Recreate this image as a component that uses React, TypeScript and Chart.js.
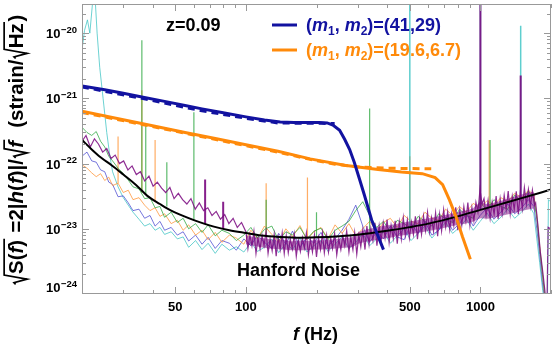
import React, { useEffect, useRef } from "react";
import { Chart, registerables } from "chart.js";

Chart.register(...registerables);

const FONT = '"Liberation Sans", Arial, Helvetica, sans-serif';

// ---------- axes ----------
const X_MIN = 20;
const X_MAX = 2000;
const Y_MIN = 1e-24;
const Y_MAX = 2.8e-20;
const xTickLabels = [50, 100, 500, 1000];
const xMinorTicks = [20, 30, 40, 60, 70, 80, 90, 200, 300, 400, 600, 700, 800, 900, 2000];
const yDecades = [-24, -23, -22, -21, -20];
const yMinorMultipliers = [2, 3, 4, 5, 6, 7, 8, 9];

// ---------- detector noise traces (values in units of 1e-23 strain/sqrt(Hz)) ----------
const U = 1e-23;

const gridFreqs = [
  20, 21, 22, 23, 24, 25, 26, 27, 28.5, 30,
  31.5, 33, 35, 37, 39, 41, 43, 45, 48, 51,
  54, 57, 61, 65, 69, 74, 79, 85, 91, 98,
  105, 112, 120, 129, 138, 148, 158, 170, 182, 195,
  209, 224, 240, 257, 275, 294, 315, 337, 361, 386,
  413, 442, 473, 506, 542, 580, 621, 664, 711, 761,
  814, 871, 932, 997, 1067, 1142, 1222, 1308, 1400, 1498,
  1603, 1690, 1740, 1790, 1840, 1890,
];

const greenNoise = [
  36, 30, 27, 31, 22, 18, 13, 11, 8.5, 7.0,
  5.6, 4.4, 4.1, 2.9, 3.0, 2.1, 2.2, 1.5, 1.8, 1.25,
  1.45, 1.0, 1.2, 0.88, 1.15, 0.78, 0.95, 0.85, 0.66, 0.8,
  1.05, 0.72, 0.98, 1.1, 0.66, 0.9, 0.8, 1.05, 0.7, 0.92,
  1.02, 0.68, 0.95, 1.1, 1.3, 1.9, 2.6, 1.6, 1.05, 1.3,
  0.9, 1.35, 1.2, 1.0, 1.55, 1.3, 1.1, 1.7, 1.4, 1.25,
  2.0, 1.6, 1.45, 2.6, 1.9, 2.8, 2.2, 2.0, 3.3, 2.6,
  3.8, 2.9, 1.4, 0.5, 0.2, 0.08,
];

const blueNoise = [
  13, 15, 11, 10.5, 8, 7.5, 5.2, 4.8, 3.1, 3.2,
  2.5, 1.9, 2.0, 1.45, 1.6, 1.1, 1.3, 0.95, 1.05, 0.8,
  0.9, 0.65, 0.8, 0.58, 0.74, 0.5, 0.66, 0.6, 0.47, 0.7,
  0.55, 0.8, 0.62, 0.5, 0.85, 0.58, 0.92, 0.52, 0.75, 0.6,
  0.88, 0.55, 0.7, 0.95, 1.4, 2.3, 1.1, 0.62, 0.9, 0.7,
  1.1, 0.75, 0.68, 1.2, 0.85, 1.3, 0.8, 0.95, 1.5, 0.95,
  1.2, 1.7, 1.1, 1.6, 2.1, 1.4, 1.8, 2.4, 1.7, 2.1,
  2.8, 2.2, 1.0, 0.4, 0.15, 0.07,
];

const orangeNoise = [
  9.6, 8.5, 7.2, 6.3, 7.0, 5.5, 6.2, 4.6, 5.0, 3.6,
  3.9, 2.8, 3.0, 2.3, 1.9, 2.1, 1.55, 1.7, 1.2, 1.35,
  0.95, 1.15, 0.8, 0.95, 0.68, 0.88, 0.62, 0.8, 0.72, 0.58,
  0.95, 0.7, 1.1, 0.82, 0.62, 1.0, 0.75, 1.12, 0.68, 0.9,
  1.05, 0.7, 1.15, 0.85, 1.2, 0.78, 1.0, 1.3, 0.9, 1.25,
  1.45, 1.05, 1.6, 1.3, 1.2, 1.8, 1.45, 1.35, 2.0, 1.6,
  2.2, 1.8, 2.45, 2.1, 2.7, 2.3, 3.0, 2.6, 3.5, 3.0,
  3.9, 3.3, 1.6, 0.55, 0.2, 0.08,
];

const cyanFreqs = [
  20, 20.5, 21.1, 21.6, 22.2, 22.8, 23.2, 23.8, 24.6, 25.5,
  26.3, 27, 28.5, 30,
  31.5, 33, 35, 37, 39, 41, 43, 45, 48, 51,
  54, 57, 61, 65, 69, 74, 79, 85, 91, 98,
  105, 112, 120, 129, 138, 148, 158, 170, 182, 195,
  209, 224, 240, 257, 275, 294, 315, 337, 361, 386,
  413, 442, 473, 506, 542, 580, 621, 664, 711, 761,
  814, 871, 932, 997, 1067, 1142, 1222, 1308, 1400, 1498,
  1603, 1690, 1740, 1790, 1840, 1890,
  1930, 1950, 1990,
];
const cyanNoise = [
  550, 1100, 1600, 1000, 3000, 3000, 1000, 300, 100, 30,
  13, 7.5, 4.4, 3.0,
  2.3, 1.8, 1.4, 1.1, 1.2, 0.95, 1.05, 0.82, 0.9, 0.7,
  0.75, 0.52, 0.66, 0.48, 0.6, 0.42, 0.58, 0.47, 0.53, 0.44,
  0.62, 0.45, 0.52, 0.7, 0.43, 0.6, 0.48, 0.72, 0.44, 0.55,
  0.66, 0.45, 0.58, 0.75, 0.5, 0.62, 0.85, 0.55, 0.7, 0.9,
  0.6, 0.78, 1.0, 0.66, 0.85, 1.1, 0.72, 0.95, 1.25, 0.85,
  1.05, 1.4, 0.95, 1.3, 1.75, 1.2, 1.5, 2.0, 1.45, 1.8,
  2.4, 1.7, 0.7, 0.3, 0.12, 0.06,
  0.05, 2.8, 2.6,
];

// purple trace: low-frequency part, dense middle part, high-frequency roll-off
const purpleLowFreqs = [
  20, 20.8, 21.7, 22.6, 23.5, 24.5, 25.5, 26.6, 27.7, 28.9,
  30.1, 31.4, 32.7, 34.1, 35.5, 37, 38.6, 40.2, 41.9, 43.7,
  45.5, 47.4, 49.4, 51.5, 53.7, 56, 58.3, 60.8, 63.3, 66,
  68.8, 71.7, 74.7, 77.9, 81.2, 84.6, 88.2, 91.9, 95.8,
];
const purpleLow = [
  22, 27, 18, 24, 20, 15, 17, 12, 13.5, 10,
  11, 8.0, 9.2, 6.8, 7.5, 5.4, 6.4, 4.5, 5.2, 4.2,
  3.6, 4.3, 2.9, 3.5, 2.8, 2.4, 2.9, 2.0, 2.5, 1.9,
  2.1, 1.6, 1.85, 1.4, 1.65, 1.2, 1.45, 1.05, 1.25,
];
const purpleMidFreqs = [
  100, 102, 104, 106.1, 108.2, 110.4, 112.6, 114.9, 117.2, 119.5,
  121.9, 124.3, 126.8, 129.4, 132, 134.6, 137.3, 140, 142.8, 145.7,
  148.6, 151.6, 154.6, 157.7, 160.8, 164, 167.3, 170.7, 174.1, 177.6,
  181.1, 184.7, 188.4, 192.2, 196, 200, 204, 208, 212, 216,
  221, 225, 230, 234, 239, 244, 249, 254, 259, 264,
  269, 275, 280, 286, 291, 297, 303, 309, 315, 322,
  328, 335, 341, 348, 355, 362, 370, 377, 385, 392,
  400, 408, 416, 425, 433, 442, 451, 460, 469, 478,
  488, 498, 508, 518, 528, 539, 550, 561, 572, 583,
  595, 607, 619, 631, 644, 657, 670, 683, 697, 711,
  725, 740, 754, 770, 785, 801, 817, 833, 850, 867,
  884, 902, 920, 938, 957, 976, 996, 1016, 1036, 1057,
  1078, 1100, 1122, 1144, 1167, 1190, 1214, 1238, 1263, 1288,
  1314, 1340, 1367, 1394, 1422, 1451, 1480, 1509, 1540, 1570,
  1602, 1634, 1666, 1700, 1720,
];
const purpleMid = [
  0.90, 0.50, 0.80, 0.55, 0.92, 0.42, 0.72, 0.49, 0.79, 0.55,
  0.91, 0.42, 0.70, 0.46, 0.82, 0.38, 0.74, 0.48, 0.86, 0.42,
  0.78, 0.43, 0.70, 0.49, 0.82, 0.38, 0.66, 0.45, 0.73, 0.51,
  0.86, 0.40, 0.68, 0.44, 0.80, 0.37, 0.73, 0.48, 0.86, 0.43,
  0.79, 0.44, 0.72, 0.50, 0.85, 0.40, 0.69, 0.48, 0.78, 0.55,
  0.93, 0.44, 0.74, 0.48, 0.87, 0.41, 0.80, 0.53, 0.95, 0.48,
  1.10, 0.58, 1.01, 0.66, 1.24, 0.55, 1.11, 0.65, 1.22, 0.73,
  1.39, 0.62, 1.13, 0.71, 1.33, 0.59, 1.27, 0.70, 1.47, 0.80,
  1.36, 0.72, 1.26, 0.82, 1.56, 0.69, 1.41, 0.82, 1.57, 0.94,
  1.79, 0.90, 1.48, 0.92, 1.75, 0.77, 1.67, 0.93, 1.96, 1.07,
  1.82, 0.97, 1.71, 1.12, 2.13, 0.95, 1.95, 1.14, 2.19, 1.32,
  2.52, 1.14, 2.11, 1.33, 2.54, 1.8, 4.0, 2.4, 2.9, 1.59,
  2.70, 1.44, 2.55, 1.67, 3.18, 1.41, 2.90, 1.70, 3.27, 1.98,
  3.80, 1.70, 3.16, 1.98, 3.77, 1.67, 3.64, 2.03, 4.29, 2.36,
  4.0, 2.2, 3.9, 2.3, 2.5,
];
const purpleHighFreqs = [1760, 1800, 1850, 1890, 1920, 1945, 1990];
const purpleHigh = [1.1, 0.45, 0.2, 0.1, 0.05, 1.05, 1.0];

// dense core where the overlapping traces merge (upper / lower edge), units of 1e-23
const coreFreqs = [
  100, 108, 116, 125, 135, 145, 156, 168, 181, 195,
  210, 226, 244, 263, 283, 305, 329, 354, 381, 411,
  442, 476, 513, 552, 595, 640, 690, 743, 800, 861,
  928, 999, 1076, 1159, 1248, 1344, 1448, 1559, 1680, 1712,
];
const coreUpper = [
  0.8, 0.74, 0.72, 0.7, 0.66, 0.68, 0.64, 0.66, 0.65, 0.67,
  0.66, 0.68, 0.7, 0.72, 0.74, 0.9, 0.98, 1.04, 1.1, 1.14,
  1.2, 1.26, 1.32, 1.38, 1.44, 1.52, 1.6, 1.68, 1.8, 1.9,
  2.05, 2.6, 2.35, 2.55, 2.75, 3.0, 3.25, 3.5, 3.7, 3.3,
];
const coreLower = [
  0.58, 0.55, 0.52, 0.5, 0.49, 0.48, 0.47, 0.47, 0.47, 0.48,
  0.48, 0.49, 0.5, 0.51, 0.52, 0.6, 0.64, 0.67, 0.7, 0.73,
  0.77, 0.8, 0.84, 0.88, 0.92, 0.97, 1.02, 1.08, 1.14, 1.2,
  1.28, 1.45, 1.42, 1.5, 1.6, 1.7, 1.82, 1.94, 2.05, 1.8,
];

// narrow spectral lines: [frequency Hz, base, peak] in units of 1e-23
const greenLines = [
  [36.0, 3.6, 780], [37.4, 3.3, 40], [46, 2.2, 10.5], [60, 1.35, 61],
  [122, 0.8, 2.8], [200, 0.75, 1.8], [337, 0.9, 70], [1000, 2.0, 8], [1100, 2.1, 23],
];
const orangeLines = [
  [28.5, 5.0, 26], [36.0, 3.6, 133], [41.0, 2.6, 23], [122, 0.8, 5.0],
  [183, 0.74, 6.1], [500, 1.1, 13], [1090, 2.1, 23],
];
const purpleLines = [[67, 1.2, 5.7], [80, 1.0, 2.6], [1000, 2.0, 3000], [1485, 2.9, 225]];
const cyanLines = [[500, 1.1, 3000], [1000, 2.0, 3000], [1485, 2.9, 1300]];

// Hanford noise model curve (units of 1e-23)
const modelFreqs = [20, 22, 24, 27, 30, 34, 38, 43, 48, 53, 60, 73, 85, 100, 116, 140, 170, 200, 250, 300, 400, 500, 600, 800, 1000, 1200, 1500, 2000];
const modelNoise = [23, 16.5, 12.5, 9.2, 6.8, 4.7, 3.2, 2.4, 1.9, 1.62, 1.36, 1.08, 0.95, 0.86, 0.79, 0.75, 0.73, 0.74, 0.77, 0.81, 0.93, 1.06, 1.2, 1.55, 1.95, 2.35, 2.95, 4.0];

// ---------- signals 2|h(f)|sqrt(f) ----------
const bbh1Freqs = [20, 25, 30, 36, 45, 55, 65, 80, 100, 120, 140, 160, 185, 205, 222, 235, 251, 264, 277, 290, 305, 320, 344, 386];
const bbh1Amp = [1.55e-21, 1.36e-21, 1.2e-21, 1.05e-21, 9.0e-22, 7.8e-22, 6.9e-22, 6.0e-22, 5.2e-22, 4.65e-22, 4.35e-22, 4.25e-22, 4.25e-22, 4.25e-22, 4.2e-22, 3.9e-22, 3.25e-22, 2.34e-22, 1.64e-22, 1.04e-22, 5.8e-23, 3.3e-23, 1.35e-23, 4.8e-24];
const bbh1ApproxFreqs = [20, 36, 64, 100, 137, 180, 210, 239];
const bbh1ApproxAmp = [1.5e-21, 1.0e-21, 6.5e-22, 4.95e-22, 4.2e-22, 4.15e-22, 4.15e-22, 4.1e-22];

const bbh2Freqs = [20, 30, 40, 55, 75, 100, 137, 188, 263, 366, 460, 565, 641, 690, 737, 786, 838, 906];
const bbh2Amp = [6.35e-22, 4.7e-22, 3.8e-22, 3.0e-22, 2.4e-22, 1.94e-22, 1.55e-22, 1.18e-22, 9.4e-23, 8.1e-23, 7.4e-23, 7.0e-23, 6.1e-23, 4.75e-23, 2.8e-23, 1.55e-23, 7.6e-24, 3.4e-24];
const bbh2ApproxFreqs = [20, 40, 70, 100, 137, 188, 240, 300, 400, 500, 617];
const bbh2ApproxAmp = [6.1e-22, 3.7e-22, 2.45e-22, 1.88e-22, 1.5e-22, 1.16e-22, 9.8e-23, 8.9e-23, 8.5e-23, 8.4e-23, 8.3e-23];

const legendMasses = ["(41,29)", "(19.6,6.7)"];
const redshiftLabel = "z=0.09";
const noiseLabel = "Hanford Noise";

const BLUE = "#1212a0";
const ORANGE = "#ff8a0a";
const PURPLE = "rgba(122,8,128,0.85)";

const pts = (fs: number[], vs: number[], unit = 1) => fs.map((f, i) => ({ x: f, y: vs[i] * unit }));
const linePts = (arr: number[][]) =>
  arr.flatMap(([f, b, t]) => [{ x: f, y: b * U }, { x: f, y: t * U }, { x: f, y: null }]);

function ds(data: any[], color: string, width: number, order: number, extra: any = {}) {
  return {
    data,
    borderColor: color,
    backgroundColor: color,
    borderWidth: width,
    pointRadius: 0,
    pointHoverRadius: 0,
    spanGaps: false,
    fill: false,
    order,
    ...extra,
  };
}

type Run = { t: string; it?: boolean };
type Piece = Run | { rad: Run[] };
const yTitle: Piece[] = [
  { rad: [{ t: "S(" }, { t: "f", it: true }, { t: ")" }] },
  { t: " =2|" },
  { t: "h", it: true },
  { t: "(" },
  { t: "f", it: true },
  { t: ")|/" },
  { rad: [{ t: "f", it: true }] },
  { t: "  (strain/" },
  { rad: [{ t: "Hz" }] },
  { t: ")" },
];

function drawYTitle(ctx: CanvasRenderingContext2D) {
  const fs = 20.5;
  const fontOf = (r: Run) => `${r.it ? "italic " : ""}bold ${fs}px ${FONT}`;
  const runW = (r: Run) => {
    ctx.font = fontOf(r);
    return ctx.measureText(r.t).width;
  };
  const radLead = fs * 0.55;
  const pieceW = (p: Piece) =>
    "rad" in p ? radLead + p.rad.reduce((s, r) => s + runW(r), 0) + fs * 0.08 : runW(p);
  const total = yTitle.reduce((s, p) => s + pieceW(p), 0);
  ctx.save();
  ctx.translate(23, 150);
  ctx.rotate(-Math.PI / 2);
  ctx.fillStyle = "#000";
  ctx.strokeStyle = "#000";
  ctx.textBaseline = "alphabetic";
  ctx.textAlign = "left";
  let x = -total / 2;
  for (const p of yTitle) {
    if ("rad" in p) {
      const inner = p.rad.reduce((s, r) => s + runW(r), 0);
      const top = -fs * 0.92;
      ctx.lineWidth = 1.7;
      ctx.lineJoin = "miter";
      ctx.beginPath();
      ctx.moveTo(x + 1, -fs * 0.36);
      ctx.lineTo(x + fs * 0.13, -fs * 0.44);
      ctx.lineTo(x + fs * 0.3, fs * 0.2);
      ctx.lineTo(x + radLead - 1, top);
      ctx.lineTo(x + radLead + inner + fs * 0.06, top);
      ctx.stroke();
      let xi = x + radLead;
      for (const r of p.rad) {
        ctx.font = fontOf(r);
        ctx.fillText(r.t, xi, 0);
        xi += runW(r);
      }
      x += pieceW(p);
    } else {
      ctx.font = fontOf(p);
      ctx.fillText(p.t, x, 0);
      x += runW(p);
    }
  }
  ctx.restore();
}

type Seg = { t: string; f: string; dy?: number };
function drawSegs(ctx: CanvasRenderingContext2D, x: number, y: number, segs: Seg[], color: string) {
  ctx.fillStyle = color;
  ctx.textAlign = "left";
  ctx.textBaseline = "alphabetic";
  for (const s of segs) {
    ctx.font = s.f;
    ctx.fillText(s.t, x, y + (s.dy || 0));
    x += ctx.measureText(s.t).width;
  }
  return x;
}

const decoPlugin = {
  id: "deco",
  beforeDraw(chart: any) {
    const { ctx, width, height } = chart;
    ctx.save();
    ctx.fillStyle = "#fff";
    ctx.fillRect(0, 0, width, height);
    ctx.restore();
  },
  afterDraw(chart: any) {
    const { ctx, chartArea: a, scales } = chart;
    const xs = scales.x;
    const ys = scales.y;
    ctx.save();
    ctx.strokeStyle = "#999";
    ctx.lineWidth = 1;
    ctx.strokeRect(a.left + 0.5, a.top + 0.5, a.right - a.left - 1, a.bottom - a.top - 1);
    const xTick = (v: number, len: number) => {
      const px = Math.round(xs.getPixelForValue(v)) + 0.5;
      ctx.beginPath();
      ctx.moveTo(px, a.bottom);
      ctx.lineTo(px, a.bottom - len);
      ctx.moveTo(px, a.top);
      ctx.lineTo(px, a.top + len);
      ctx.stroke();
    };
    xTickLabels.forEach((v) => xTick(v, 7));
    xMinorTicks.forEach((v) => xTick(v, 4));
    const yTick = (v: number, len: number) => {
      const py = Math.round(ys.getPixelForValue(v)) + 0.5;
      if (py < a.top || py > a.bottom) return;
      ctx.beginPath();
      ctx.moveTo(a.left, py);
      ctx.lineTo(a.left + len, py);
      ctx.moveTo(a.right, py);
      ctx.lineTo(a.right - len, py);
      ctx.stroke();
    };
    yDecades.forEach((d) => {
      yTick(Math.pow(10, d), 7);
      yMinorMultipliers.forEach((m) => yTick(m * Math.pow(10, d), 4));
    });
    ctx.fillStyle = "#000";
    ctx.font = `bold 13px ${FONT}`;
    ctx.textAlign = "center";
    ctx.textBaseline = "alphabetic";
    xTickLabels.forEach((v) => {
      ctx.fillText(String(v), xs.getPixelForValue(v), a.bottom + 17);
    });
    yDecades.forEach((d) => {
      const py = ys.getPixelForValue(Math.pow(10, d));
      const sup = "\u2212" + Math.abs(d);
      ctx.textAlign = "left";
      ctx.font = `bold 9.5px ${FONT}`;
      const wSup = ctx.measureText(sup).width;
      ctx.font = `bold 13px ${FONT}`;
      const wBase = ctx.measureText("10").width;
      const right = a.left - 5;
      const base = Math.min(py + 5, a.bottom - 2);
      ctx.fillText("10", right - wSup - wBase - 0.5, base);
      ctx.font = `bold 9.5px ${FONT}`;
      ctx.fillText(sup, right - wSup, base - 5.5);
    });
    drawYTitle(ctx);
    drawSegs(ctx, 293, 340, [
      { t: "f", f: `italic bold 18px ${FONT}` },
      { t: " (Hz)", f: `bold 18px ${FONT}` },
    ], "#000");
    drawSegs(ctx, 166, 31, [{ t: redshiftLabel, f: `bold 18px ${FONT}` }], "#000");
    drawSegs(ctx, 237, 276, [{ t: noiseLabel, f: `bold 18px ${FONT}` }], "#000");
    const legendColors = [BLUE, ORANGE];
    const legendY = [25, 50];
    legendMasses.forEach((lab, i) => {
      ctx.strokeStyle = legendColors[i];
      ctx.lineWidth = 3;
      ctx.beginPath();
      ctx.moveTo(272, legendY[i]);
      ctx.lineTo(297, legendY[i]);
      ctx.stroke();
      const B18 = `bold 18px ${FONT}`;
      const BI18 = `italic bold 18px ${FONT}`;
      const S12 = `bold 12px ${FONT}`;
      drawSegs(ctx, 306, legendY[i] + 6, [
        { t: "(", f: B18 },
        { t: "m", f: BI18 },
        { t: "1", f: S12, dy: 4 },
        { t: ", ", f: B18 },
        { t: "m", f: BI18 },
        { t: "2", f: S12, dy: 4 },
        { t: ")=" + lab, f: B18 },
      ], legendColors[i]);
    });
    ctx.restore();
  },
};

export default function App() {
  const ref = useRef<HTMLCanvasElement>(null);
  useEffect(() => {
    const canvas = ref.current;
    if (!canvas) return;
    const purpleData = [
      ...pts(purpleLowFreqs, purpleLow, U),
      ...pts(purpleMidFreqs, purpleMid, U),
      ...pts(purpleHighFreqs, purpleHigh, U),
    ];
    const datasets = [
      ds(pts(bbh1Freqs, bbh1Amp), BLUE, 3, 0),
      ds(pts(bbh1ApproxFreqs, bbh1ApproxAmp), BLUE, 3, 0, { borderDash: [7, 5] }),
      ds(pts(bbh2Freqs, bbh2Amp), ORANGE, 3, 0),
      ds(pts(bbh2ApproxFreqs, bbh2ApproxAmp), ORANGE, 3, 0, { borderDash: [7, 5] }),
      ds(pts(modelFreqs, modelNoise, U), "#000", 2, 1, { cubicInterpolationMode: "monotone" }),
      ds(purpleData, PURPLE, 1.2, 2),
      ds(linePts(purpleLines), "rgba(122,8,128,0.9)", 2, 2),
      ds(pts(coreFreqs, coreUpper, U), "rgba(122,8,128,0)", 0, 3, {
        fill: "+1",
        backgroundColor: "rgba(122,8,128,0.5)",
      }),
      ds(pts(coreFreqs, coreLower, U), "rgba(122,8,128,0)", 0, 3),
      ds(linePts(cyanLines), "rgba(40,190,190,0.75)", 1.5, 4),
      ds(pts(gridFreqs, greenNoise, U), "rgba(40,165,60,0.75)", 1, 5),
      ds(linePts(greenLines), "rgba(40,165,60,0.75)", 1.2, 5),
      ds(pts(gridFreqs, orangeNoise, U), "rgba(255,145,50,0.75)", 1, 6),
      ds(linePts(orangeLines), "rgba(255,145,50,0.75)", 1.2, 6),
      ds(pts(gridFreqs, blueNoise, U), "rgba(60,60,205,0.7)", 1, 7),
      ds(pts(cyanFreqs, cyanNoise, U), "rgba(60,195,195,0.75)", 1, 8),
    ];
    const chart = new Chart(canvas, {
      type: "line",
      data: { datasets } as any,
      options: {
        responsive: false,
        animation: false,
        devicePixelRatio: 1,
        layout: { padding: { left: 82, right: 5, top: 4, bottom: 55 } },
        plugins: {
          legend: { display: false },
          tooltip: { enabled: false },
          title: { display: false },
          filler: { propagate: false },
        },
        events: [],
        scales: {
          x: { type: "logarithmic", min: X_MIN, max: X_MAX, display: false },
          y: { type: "logarithmic", min: Y_MIN, max: Y_MAX, display: false },
        },
      } as any,
      plugins: [decoPlugin],
    });
    return () => chart.destroy();
  }, []);
  return (
    <div style={{ position: "fixed", left: 0, top: 0, width: 556, height: 349, background: "#fff" }}>
      <canvas ref={ref} width={556} height={349} style={{ display: "block", width: 556, height: 349 }} />
    </div>
  );
}
